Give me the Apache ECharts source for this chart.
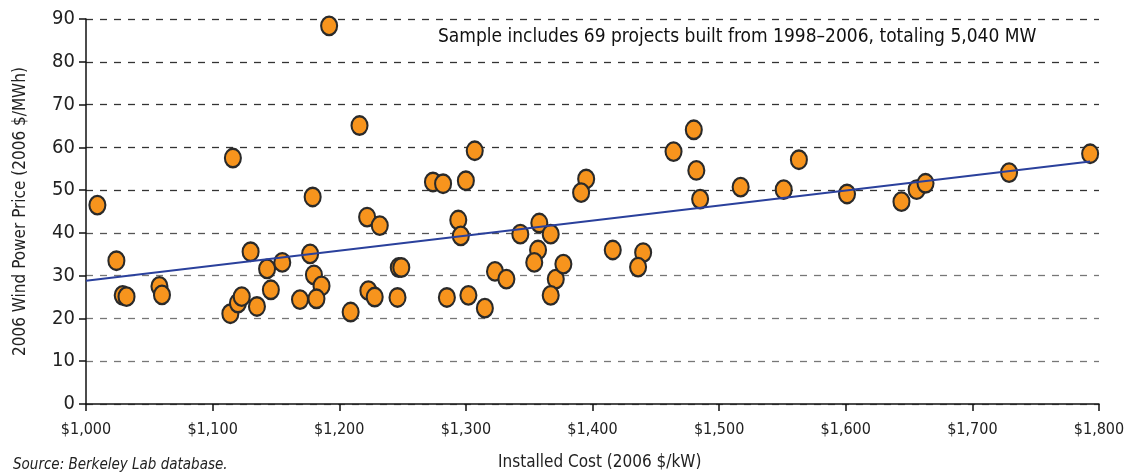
<!DOCTYPE html>
<html>
<head>
<meta charset="utf-8">
<script src="https://cdn.jsdelivr.net/npm/echarts@6/dist/echarts.min.js"></script>
<style>
  html, body { margin: 0; padding: 0; background: #fff; }
  #chart { width: 1136px; height: 474px; }
</style>
</head>
<body>
<div id="chart"></div>
<script>
// installed cost ($/kW) of each project
var costs = [
  1009, 1024, 1029, 1032, 1058, 1060, 1116, 1114, 1120, 1123,
  1130, 1135, 1143, 1146, 1155, 1169, 1177, 1179, 1180, 1186,
  1182, 1192, 1209, 1216, 1222, 1232, 1223, 1228, 1247, 1249,
  1246, 1274, 1282, 1300, 1307, 1294, 1296, 1285, 1302, 1315,
  1323, 1332, 1343, 1358, 1357, 1354, 1367, 1371, 1367, 1377,
  1395, 1391, 1416, 1440, 1436, 1464, 1480, 1482, 1485, 1517,
  1551, 1563, 1601, 1644, 1656, 1663, 1729, 1793
];
// wind power price (2006 $/MWh) of the same projects
var prices = [
  46.5, 33.5, 25.4, 25.1, 27.5, 25.5, 57.5, 21.1, 23.6, 25.1,
  35.6, 22.8, 31.6, 26.7, 33.1, 24.4, 35.1, 48.4, 30.2, 27.6,
  24.6, 88.4, 21.5, 65.1, 43.7, 41.7, 26.5, 25.0, 31.9, 31.9,
  24.9, 51.9, 51.5, 52.2, 59.2, 43.0, 39.3, 24.9, 25.4, 22.4,
  31.0, 29.2, 39.7, 42.3, 36.0, 33.1, 39.7, 29.2, 25.4, 32.7,
  52.6, 49.4, 36.0, 35.4, 32.0, 59.0, 64.1, 54.6, 47.9, 50.7,
  50.1, 57.1, 49.1, 47.3, 50.1, 51.6, 54.1, 58.5
];
// linear trend line end points
var trendX = [1000, 1793];
var trendY = [28.8, 56.7];

var xTicks = [1000, 1100, 1200, 1300, 1400, 1500, 1600, 1700, 1800];
var yTicks = [0, 10, 20, 30, 40, 50, 60, 70, 80, 90];

var points = costs.map(function (c, i) { return [c, prices[i]]; });
var trend = trendX.map(function (x, i) { return [x, trendY[i]]; });

var font = '"DejaVu Sans Condensed", "Liberation Sans", sans-serif';
var ellipse = 'path://M0,10 C0,4.5 4.5,0 10,0 C15.5,0 20,4.5 20,10 C20,15.5 15.5,20 10,20 C4.5,20 0,15.5 0,10Z';

var chart = echarts.init(document.getElementById('chart'), null, { renderer: 'canvas' });

chart.setOption({
  animation: false,
  backgroundColor: '#fff',
  grid: { left: 86, right: 37, top: 19, bottom: 70, containLabel: false },
  xAxis: {
    type: 'value',
    min: xTicks[0],
    max: xTicks[xTicks.length - 1],
    interval: 100,
    axisLine: { show: true, lineStyle: { color: '#111', width: 1.5 } },
    axisTick: { show: true, length: 7, lineStyle: { color: '#111', width: 1.5 } },
    axisLabel: {
      margin: 18,
      color: '#222',
      fontFamily: font,
      fontSize: 16,
      formatter: function (v) { return '$' + v.toLocaleString('en-US'); }
    },
    splitLine: { show: false }
  },
  yAxis: {
    type: 'value',
    min: yTicks[0],
    max: yTicks[yTicks.length - 1],
    interval: 10,
    name: '2006 Wind Power Price (2006 $/MWh)',
    nameLocation: 'middle',
    nameGap: 57,
    nameTextStyle: { color: '#222', fontFamily: font, fontSize: 17 },
    axisLine: { show: true, lineStyle: { color: '#111', width: 1.5 } },
    axisTick: { show: true, length: 7, lineStyle: { color: '#111', width: 1.5 } },
    axisLabel: { margin: 11, color: '#222', fontFamily: font, fontSize: 20 },
    splitLine: {
      show: true,
      lineStyle: {
        type: [7, 7],
        width: 1.3,
        color: ['#777', '#777', '#777', '#777', '#555', '#333', '#333', '#333', '#333', '#333']
      }
    }
  },
  series: [
    {
      type: 'scatter',
      data: points,
      symbol: ellipse,
      symbolSize: [16, 18.5],
      itemStyle: { color: '#F7941D', borderColor: '#2a2a2a', borderWidth: 2.2, opacity: 1 },
      z: 2
    },
    {
      type: 'line',
      data: trend,
      symbol: 'none',
      lineStyle: { color: '#2A409C', width: 2 },
      z: 3
    }
  ],
  graphic: [
    {
      type: 'text', left: 438, top: 28,
      style: { text: 'Sample includes 69 projects built from 1998\u20132006, totaling 5,040 MW', fill: '#111', font: '19px ' + font }
    },
    {
      type: 'text', left: 498, top: 454,
      style: { text: 'Installed Cost (2006 $/kW)', fill: '#222', font: '17px ' + font }
    },
    {
      type: 'text', left: 13, top: 458,
      style: { text: 'Source: Berkeley Lab database.', fill: '#222', font: 'italic 15px ' + font }
    }
  ]
});
</script>
</body>
</html>
